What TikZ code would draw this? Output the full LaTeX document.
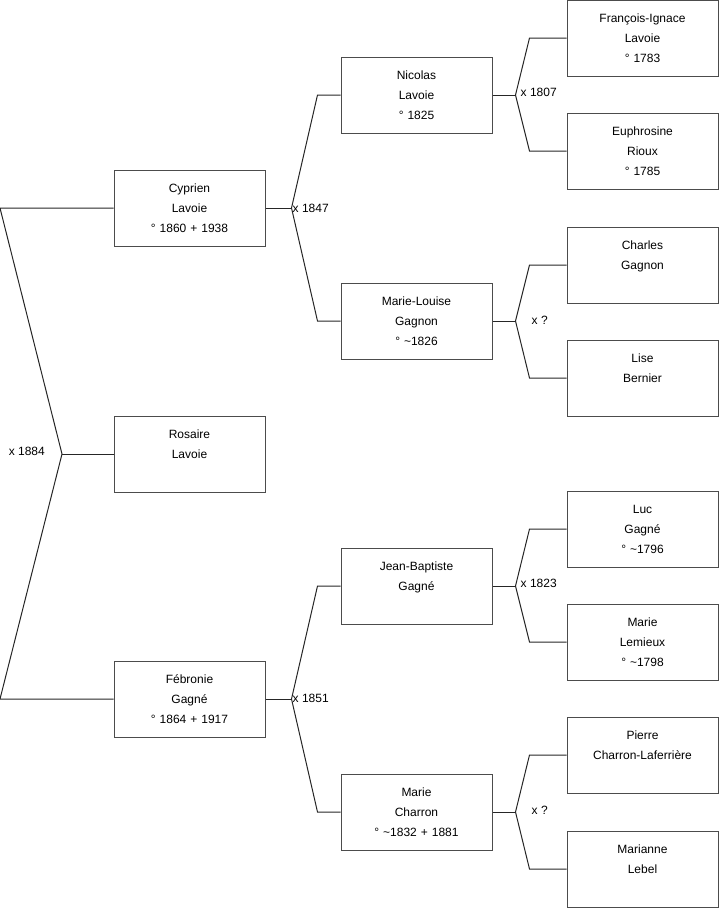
\documentclass[tikz,border=0pt]{standalone}
\usepackage{fontspec}
\setmainfont{Liberation Sans}
\usetikzlibrary{calc}

\begin{document}
\begin{tikzpicture}[x=1pt, y=-1pt,
  person/.style={rectangle, draw=black!70, line width=1pt,
                 minimum width=151pt, minimum height=76pt, inner sep=0pt,
                 text width=147pt, align=center, font=\fontsize{12}{20}\selectfont},
  link/.style={draw=black!85, line width=1pt},
  union/.style={inner sep=1pt, font=\fontsize{12}{14}\selectfont}]
  \useasboundingbox (0,0) rectangle (719,908);

  % generation 1
  \node[person] (cyprien)  at (189.5,208) {Cyprien\\Lavoie\\° 1860 + 1938};
  \node[person] (rosaire)  at (189.5,454) {Rosaire\\Lavoie\\\mbox{}};
  \node[person] (febronie) at (189.5,699) {Fébronie\\Gagné\\° 1864 + 1917};

  % generation 2
  \node[person] (nicolas)   at (416.5,95)  {Nicolas\\Lavoie\\° 1825};
  \node[person] (mlouise)   at (416.5,321) {Marie-Louise\\Gagnon\\° \textasciitilde1826};
  \node[person] (jbaptiste) at (416.5,586) {Jean-Baptiste\\Gagné\\\mbox{}};
  \node[person] (mcharron)  at (416.5,812) {Marie\\Charron\\° \textasciitilde1832 + 1881};

  % generation 3
  \node[person] (fignace)    at (642.5,38)  {François-Ignace\\Lavoie\\° 1783};
  \node[person] (euphrosine) at (642.5,151) {Euphrosine\\Rioux\\° 1785};
  \node[person] (charles)    at (642.5,265) {Charles\\Gagnon\\\mbox{}};
  \node[person] (lise)       at (642.5,378) {Lise\\Bernier\\\mbox{}};
  \node[person] (luc)        at (642.5,529) {Luc\\Gagné\\° \textasciitilde1796};
  \node[person] (mlemieux)   at (642.5,642) {Marie\\Lemieux\\° \textasciitilde1798};
  \node[person] (pierre)     at (642.5,755) {Pierre\\Charron-Laferrière\\\mbox{}};
  \node[person] (marianne)   at (642.5,869) {Marianne\\Lebel\\\mbox{}};

  % parents of Rosaire
  \coordinate (ptop) at (0,208);
  \coordinate (pbot) at (0,699);
  \coordinate (m1884) at (62,454);
  \draw[link] (cyprien.west) -- (ptop) -- (m1884) -- (pbot) -- (febronie.west);
  \draw[link] (m1884) -- (rosaire.west);
  \node[union, anchor=east] (l1884) at ($(m1884)+(-16,-3)$) {x 1884};

  % parents of Cyprien and Fébronie
  \draw[link] (cyprien.east) -- ++(26,0) coordinate (m1847);
  \draw[link] (nicolas.west) -- ++(-23,0) -- (m1847) -- ($(mlouise.west)+(-23,0)$) -- (mlouise.west);
  \node[union, anchor=west] (l1847) at (m1847) {x 1847};

  \draw[link] (febronie.east) -- ++(26,0) coordinate (m1851);
  \draw[link] (jbaptiste.west) -- ++(-23,0) -- (m1851) -- ($(mcharron.west)+(-23,0)$) -- (mcharron.west);
  \node[union, anchor=west] (l1851) at ($(m1851)+(0,-1)$) {x 1851};

  % generation 3 couples
  \draw[link] (nicolas.east) -- ++(23,0) coordinate (m1807);
  \draw[link] (fignace.west) -- ++(-37,0) -- (m1807) -- ($(euphrosine.west)+(-37,0)$) -- (euphrosine.west);
  \node[union, anchor=west] (l1807) at ($(m1807)+(4,-3)$) {x 1807};

  \draw[link] (mlouise.east) -- ++(23,0) coordinate (mgagnon);
  \draw[link] (charles.west) -- ++(-37,0) -- (mgagnon) -- ($(lise.west)+(-37,0)$) -- (lise.west);
  \node[union, anchor=west] (lgagnon) at ($(mgagnon)+(15,-1)$) {x ?};

  \draw[link] (jbaptiste.east) -- ++(23,0) coordinate (m1823);
  \draw[link] (luc.west) -- ++(-37,0) -- (m1823) -- ($(mlemieux.west)+(-37,0)$) -- (mlemieux.west);
  \node[union, anchor=west] (l1823) at ($(m1823)+(4,-3)$) {x 1823};

  \draw[link] (mcharron.east) -- ++(23,0) coordinate (mcharron2);
  \draw[link] (pierre.west) -- ++(-37,0) -- (mcharron2) -- ($(marianne.west)+(-37,0)$) -- (marianne.west);
  \node[union, anchor=west] (lcharron) at ($(mcharron2)+(15,-2)$) {x ?};
\end{tikzpicture}
\end{document}
